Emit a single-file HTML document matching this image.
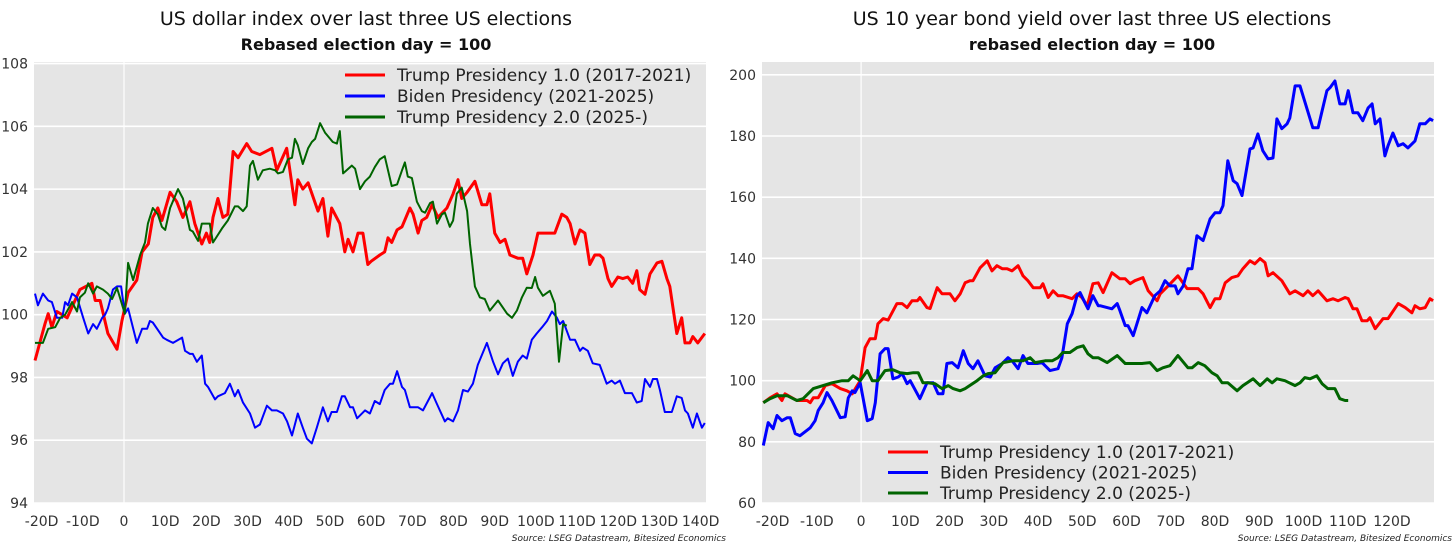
<!DOCTYPE html>
<html><head><meta charset="utf-8">
<style>
html,body{margin:0;padding:0;background:#fff;}
svg{display:block;font-family:"DejaVu Sans","Liberation Sans",sans-serif;}
</style></head>
<body>
<svg id="c" width="1456" height="546" viewBox="0 0 1456 546">
<text x="366" y="25" text-anchor="middle" font-size="19" fill="#111">US dollar index over last three US elections</text>
<text x="366" y="50" text-anchor="middle" font-size="16" font-weight="bold" fill="#111">Rebased election day = 100</text>
<text x="1092" y="25" text-anchor="middle" font-size="19" fill="#111">US 10 year bond yield over last three US elections</text>
<text x="1092" y="50" text-anchor="middle" font-size="16" font-weight="bold" fill="#111">rebased election day = 100</text>
<text x="726" y="541" text-anchor="end" font-size="9" font-style="italic" fill="#222">Source: LSEG Datastream, Bitesized Economics</text>
<text x="1452" y="541" text-anchor="end" font-size="9" font-style="italic" fill="#222">Source: LSEG Datastream, Bitesized Economics</text>
<g id="L"></g><g id="R"></g>
</svg>
<script>
// ---------- Left chart data (US dollar index) ----------
const dxyTicksY=[94,96,98,100,102,104,106,108];
const dxyTicksX=[-20,-10,0,10,20,30,40,50,60,70,80,90,100,110,120,130,140];
const dxyT1Days=[-21.6,-19.2,-18.4,-17.5,-16.3,-13.8,-10.7,-7.8,-7,-5.8,-3.9,-1.7,-0.5,1,3.1,4.4,5.9,7,8.2,9.2,11.2,12.8,14.3,16,17.2,18.9,20,20.8,21.6,22.8,24,25.2,26.5,27.7,29.8,31,33,35.9,37.1,39.5,41.5,42.2,43.4,44.7,47.1,48.3,49.5,50.4,52.4,53.6,54.4,55.6,56.8,58,59.2,60,62.1,63.3,64.1,65,66.3,67.5,69.4,70.2,71.4,72.3,73.5,74.8,76.2,78.4,79.9,81.1,82,83.3,85.2,86.9,88.1,88.8,90,91.3,92.5,93.7,95.6,96.8,97.8,99.3,100.5,101.7,104.6,106.3,107.5,108.3,109.5,110.7,111.9,113.1,114.3,115.5,116.3,117.5,118.4,119.9,121.1,122.3,123.5,124.5,125.2,126.5,127.7,129.4,130.6,131.8,132.5,134.2,135.4,136.2,137.4,138.1,139.3,141];
const dxyT1Vals=[98.54,99.7,100.03,99.6,100.1,99.9,100.8,101,100.45,100.45,99.4,98.9,99.8,100.7,101.1,102,102.25,103.1,103.4,103,103.9,103.6,103.1,103.6,102.9,102.25,102.6,102.3,103.1,103.7,103.1,103.2,105.2,105,105.45,105.2,105.1,105.3,104.6,105.3,103.5,104.3,104,104.2,103.3,103.7,102.5,103.4,102.9,102,102.4,102,102.6,102.6,101.6,101.7,101.9,102,102.45,102.3,102.7,102.8,103.4,103.2,102.6,103,103.1,103.5,103.1,103.4,103.85,104.3,103.7,103.9,104.25,103.5,103.5,103.85,102.6,102.3,102.4,101.9,101.8,101.8,101.3,101.9,102.6,102.6,102.6,103.2,103.1,102.9,102.25,102.7,102.6,101.6,101.9,101.9,101.8,101.15,100.9,101.2,101.15,101.2,101,101.4,100.8,100.65,101.3,101.65,101.7,101.15,100.9,99.4,99.9,99.1,99.1,99.3,99.1,99.4];
const dxyBidenDays=[-21.6,-20.9,-19.7,-18.4,-17.5,-16.3,-15,-14.3,-13.6,-12.6,-11.4,-9.9,-8.7,-7.5,-6.6,-5.3,-4.6,-3.9,-2.7,-1.7,-0.7,0.2,1,3.1,4.4,5.6,6.3,7,9.5,10.4,11.9,14.1,14.8,16,16.7,17.7,18.9,19.7,20.4,22.1,22.8,24.5,25.7,26.9,27.7,28.9,30.6,31.8,33,34.7,35.9,37.1,38.6,39.6,40.8,42.2,43.4,44.4,45.6,46.8,48.3,49.5,50.4,51.7,52.9,53.6,54.9,55.6,56.6,58.5,59.7,60.9,62.1,63.3,64.6,65.3,66.3,67.5,68.2,69.4,71.4,72.6,74.8,76,77.9,78.6,79.9,81.1,82.3,83.5,84.7,85.9,88.1,89.6,90.8,92,93.2,94.4,95.6,96.8,97.8,99,100.2,101.5,102.7,103.9,105.1,105.8,106.6,108.3,109.5,110.7,111.4,112.6,113.8,115.5,117.2,118.4,119.2,120.4,121.6,123.3,124.5,125.7,126.5,127.7,128.4,129.4,130.1,131.3,133,134.2,135.4,136.2,136.9,138.1,139.1,140.3,141];
const dxyBidenVals=[100.67,100.3,100.67,100.45,100.4,99.9,99.9,100.4,100.3,100.67,100.55,99.9,99.4,99.7,99.55,99.9,100,100.2,100.8,100.9,100.9,100.03,100.2,99.1,99.55,99.55,99.8,99.75,99.27,99.2,99.1,99.27,98.85,98.75,98.75,98.5,98.7,97.8,97.7,97.3,97.4,97.5,97.8,97.4,97.6,97.2,96.85,96.4,96.5,97.1,96.95,96.95,96.85,96.6,96.15,96.85,96.4,96.05,95.9,96.4,97.05,96.6,96.9,96.9,97.4,97.4,97.05,97.05,96.7,96.95,96.85,97.25,97.15,97.6,97.8,97.8,98.2,97.7,97.6,97.05,97.05,96.95,97.5,97.15,96.6,96.7,96.6,96.95,97.6,97.55,97.8,98.4,99.1,98.5,98.1,98.45,98.6,98.05,98.5,98.7,98.6,99.2,99.4,99.6,99.8,100.1,99.9,99.7,99.8,99.2,99.2,98.85,98.95,98.85,98.45,98.4,97.8,97.9,97.8,97.9,97.5,97.5,97.2,97.25,97.95,97.7,97.95,97.95,97.6,96.9,96.9,97.4,97.35,96.95,96.85,96.4,96.85,96.4,96.55];
const dxyT2Days=[-21.6,-20.9,-19.7,-18.4,-16.7,-15.5,-14.3,-12.6,-11.4,-10.7,-9.5,-8.7,-7.5,-6.6,-5.1,-3.9,-2.9,-1.7,-1,0.2,1,2.2,3.9,5.1,5.8,7,8.2,9.2,10,11.2,13.1,14.3,16,16.7,18,18.9,20.8,21.6,23.8,25.2,26.9,27.7,28.9,29.8,30.6,31.3,32.5,33.7,35.4,36.7,37.4,38.6,39.8,40.8,41.5,42.2,43.4,44.7,45.6,46.4,47.6,48.8,50.7,51.7,52.4,53.2,55.3,56.1,57.3,58.5,59.7,60.9,62.1,63.3,65,66.3,67.5,68.2,68.9,69.9,71.1,72.3,73.1,74.3,75,76,77.2,77.9,79.1,79.9,80.8,82,83.3,84,85.2,86.4,87.6,88.8,90.8,93,94.2,95.4,96.6,97.8,99,99.8,100.5,101.7,103.4,104.6,105.6,106.6,107.5];
const dxyT2Vals=[99.1,99.1,99.1,99.55,99.6,99.9,100,100.4,100.1,100.55,100.7,101,100.67,100.9,100.8,100.67,100.5,100.85,100.55,100.03,101.65,101.1,101.9,102.3,102.9,103.4,103.2,102.8,102.7,103.4,104,103.7,102.7,102.65,102.35,102.9,102.9,102.3,102.75,103,103.45,103.45,103.3,103.45,104.75,104.9,104.3,104.6,104.65,104.6,104.5,104.55,104.95,105,105.6,105.4,104.8,105.3,105.5,105.6,106.1,105.8,105.5,105.45,105.85,104.5,104.75,104.65,104,104.25,104.4,104.7,104.95,105.05,104.1,104.15,104.6,104.85,104.4,104.35,103.6,103.3,103.25,103.55,103.6,102.9,103.2,103.25,102.8,103,103.85,104.05,103.3,102.25,100.9,100.55,100.5,100.13,100.45,100.03,99.9,100.13,100.55,100.86,100.85,101.2,100.86,100.6,100.76,100.35,98.5,99.7,99.65];

// ---------- Right chart data (US 10y yield) ----------
const ustTicksY=[60,80,100,120,140,160,180,200];
const ustTicksX=[-20,-10,0,10,20,30,40,50,60,70,80,90,100,110,120];
const ustT1Days=[-22.1,-20.6,-19,-17.9,-17.2,-14.5,-12.2,-11.5,-10.8,-9.7,-8.1,-6.6,-4.7,-3.2,-2,-0.2,0.9,2,3.2,3.8,5,6.1,8.1,9.3,10.4,11.5,12.7,13.3,14.9,15.6,17.2,18.3,20.1,21.2,22.4,23.5,24.6,25.3,26.9,28.5,29.6,30.7,31.9,33,34.1,35.5,36.6,37.7,38.9,40.5,41.1,42.3,43.4,44.5,45.6,47.7,48.8,49.9,51.1,52.4,53.6,54.7,56.7,58.5,59.7,60.8,61.9,63.7,64.9,66.9,67.6,69.4,71.6,73.7,76.2,77.3,78.9,80,81.1,82.3,83.8,85.2,86.3,87.9,89,90.2,91.3,92,93.1,95.1,96.9,98.1,99.9,101,102.1,103.3,105.3,106.7,107.8,109.4,110.1,111.2,112.1,113.2,114.4,115,116.2,118,119.1,121.4,123,124.5,125.2,126.3,127.5,128.6,129.3];
const ustT1Vals=[92.8,94.4,95.7,93.5,95.7,93.5,93.5,92.8,94.4,94.4,98.4,99,97.4,96.7,95.7,100,110.8,113.7,113.7,118.6,120.3,119.8,125.2,125.2,123.9,126.1,126.1,127.2,123.9,123.6,130.4,128.4,128.4,126.1,128.4,132,132.7,132.7,136.9,139.2,135.9,137.6,136.6,136.6,135.9,137.6,134.3,132.7,130.4,130.4,131.7,127.2,129.4,127.8,127.8,126.8,128.4,127.2,124.5,131.7,132,128.8,135.3,133.3,133.3,131.7,132.7,133.7,129.4,126.1,128.4,131,134.3,130.1,130.1,128.4,123.9,126.8,126.8,132,133.7,134.3,136.6,139.2,138.2,139.9,138.6,134.3,135.3,132.7,128.4,129.4,127.8,129.4,127.8,129.4,126.1,126.8,126.1,127.2,126.8,123.5,123.5,119.6,119.6,120.6,117,120.3,120.3,125.2,123.9,122.2,124.5,123.5,123.9,126.8,126.1];
const ustBidenDays=[-22.1,-21,-19.9,-19,-17.9,-16.7,-16,-14.9,-13.8,-11.5,-10.4,-9.7,-8.6,-7.7,-6.6,-4.7,-3.6,-2.9,-2,-1.4,-0.2,1.4,2.5,3.2,4.3,5.4,6.1,7.2,8.4,9.3,10.4,11.1,13.3,14.9,16.3,17.4,18.5,19.4,20.6,21.9,23.1,24.2,25.3,26.4,28,29.2,30.3,31.9,33.2,34.3,35.5,36.6,37.7,39.8,40.9,42.7,44.5,45.4,46.6,47.7,48.8,49.5,50.6,51.3,52.4,53.6,54,56.7,57.9,58.5,59.7,60.3,61.5,63.5,64.6,66.4,67.6,68.7,69.8,71,71.6,72.8,73.9,74.8,75.9,77.3,78.9,80,81.1,81.8,82.9,84.1,85,86.1,87.9,88.6,89.7,90.8,92,93.1,94,95.1,96.3,96.9,98.1,99.2,100.8,101.5,102.1,103.3,104.2,105.3,106,107.1,108.2,109.4,110.1,111.2,112.3,113.4,114.6,115.5,116.2,117.3,118.4,119.1,120.2,121.4,122.5,123.6,125.2,126.3,127.5,128.6,129.3];
const ustBidenVals=[78.8,86.3,84.3,88.6,86.9,87.9,87.9,82.7,82,84.6,86.9,90.2,92.8,96.1,93.5,87.9,88.2,94.4,96.7,96.1,99.3,86.9,87.6,92.8,108.8,110.5,110.5,100.6,101.2,102.3,99,100,94.1,99.3,99.3,95.7,95.7,105.6,105.9,104.2,109.8,105.6,103.9,106.5,101.6,101.2,104.2,105.6,107.5,106.2,103.9,108.2,105.6,105.6,105.9,103.3,103.9,107.5,118.6,121.9,127.8,128.8,125.5,123.5,127.8,124.5,124.5,123.5,125.2,122.9,118,118,114.7,123.9,122.2,127.8,129.4,132.7,131,131,128.4,131,136.6,136.6,147.4,145.8,152.9,154.9,154.9,157.2,171.9,165.4,164.4,160.5,175.8,176.1,180.7,175.2,172.5,172.8,185.6,182.4,184,185.9,196.4,196.4,188.9,185.6,182.7,182.7,188.2,194.8,195.8,198,190.5,190.5,194.8,187.6,187.6,185,189.2,190.5,184,185.6,173.5,176.8,181,176.8,177.5,176.1,178.4,184,184,185.6,185];
const ustT2Days=[-22.1,-20.6,-19,-16.7,-14.5,-13.1,-12,-10.8,-8.6,-6.6,-4.3,-2.9,-1.8,-0.2,1.4,2.5,3.8,5.4,7.2,8.8,10.4,11.8,12.9,14,15.1,16.7,18.3,19.7,20.8,22.4,23.5,26.2,27.6,28.7,30.3,32.1,34.3,36.6,38.2,39.3,41.6,43.2,44.5,45.6,47.2,48.8,50.2,51.3,52.4,53.6,55.6,57.9,59.7,61.9,63.5,65.3,66.9,68.2,69.8,71.6,73.9,74.8,76.2,77.7,79.3,80.5,81.6,82.9,85,86.3,88.6,90.2,91.8,92.9,94,95.8,98.1,99.2,100.3,101.5,103,104.2,105.5,107.1,108.2,109.4,110.1];
const ustT2Vals=[92.8,94.1,95.1,95.1,93.5,94.1,95.7,97.4,98.4,99.3,100,100,101.6,100,103.3,100,100,103.3,103.6,102.6,102.3,102.6,102.6,99.3,99.3,99,97.4,98.4,97.4,96.7,97.4,100,101.6,102.3,102.6,105.9,106.5,106.5,107.5,105.9,106.5,106.5,107.5,109.2,109.2,110.8,111.4,108.8,107.5,107.5,105.9,108.2,105.6,105.6,105.6,105.9,103.3,104.2,104.9,108.2,104.2,104.2,105.9,104.9,102.6,101.6,99.3,99.3,96.7,98.4,100.6,98.4,100.6,99.3,100.6,100,98.4,99.3,101,100.6,101.6,99,97.4,97.4,94.1,93.5,93.5];

const NS="http://www.w3.org/2000/svg";
function mk(parent,tag,attrs){const e=document.createElementNS(NS,tag);for(const k in attrs)e.setAttribute(k,attrs[k]);parent.appendChild(e);return e;}

function drawChart(g,cfg){
  const xS=d=>cfg.x0px+(d-cfg.dMin)*(cfg.x1px-cfg.x0px)/(cfg.dMax-cfg.dMin);
  const yS=v=>cfg.y1px-(v-cfg.vMin)*(cfg.y1px-cfg.y0px)/(cfg.vMax-cfg.vMin);
  const bg=mk(g,'rect',{x:cfg.x0px,y:cfg.y0px,width:cfg.x1px-cfg.x0px,height:cfg.y1px-cfg.y0px,fill:'#e5e5e5'});
  
  
  cfg.ticksY.forEach(t=>{
    const gl=mk(g,'line',{x1:cfg.x0px,x2:cfg.x1px,y1:yS(t),y2:yS(t),stroke:'#fff','stroke-width':1.6});
    
    
    const tl=mk(g,'text',{x:cfg.x0px-6,y:yS(t)+5,'text-anchor':'end','font-size':14,fill:'#333'});
    tl.textContent=t;
    
    
  });
  const vl=mk(g,'line',{x1:xS(0),x2:xS(0),y1:cfg.y0px,y2:cfg.y1px,stroke:'#fff','stroke-width':1.2});
  
  
  cfg.ticksX.forEach(t=>{
    const tl=mk(g,'text',{x:xS(t),y:cfg.y1px+23,'text-anchor':'middle','font-size':14,fill:'#333'});
    tl.textContent=t===0?'0':t+'D';
    
    
  });
  cfg.series.forEach(s=>{
    const pts=s.days.map((d,i)=>xS(d).toFixed(1)+','+yS(s.vals[i]).toFixed(1)).join(' ');
    const pl=mk(g,'polyline',{points:pts,fill:'none',stroke:s.color,'stroke-width':s.w,'stroke-linejoin':'round'});
    
    
  });
  cfg.series.forEach((s,i)=>{
    const y=cfg.legY+i*cfg.legDy;
    const ll=mk(g,'line',{x1:cfg.legX,x2:cfg.legX+40,y1:y,y2:y,stroke:s.color,'stroke-width':3});
    
    
    const lt=mk(g,'text',{x:cfg.legX+52,y:y+6,'font-size':17,fill:'#222'});
    lt.textContent=s.label;
    
    
  });
}
drawChart(document.getElementById('L'),{prefix:'dxy',x0px:34,x1px:706,y0px:62,y1px:503,dMin:-21.85,dMax:141.3,vMin:94,vMax:108.05,
  ticksY:dxyTicksY,ticksX:dxyTicksX,legX:345,legY:75,legDy:21,
  series:[
   {name:'dxy-line-trump-1',days:dxyT1Days,vals:dxyT1Vals,color:'#ff0000',w:3,label:'Trump Presidency 1.0 (2017-2021)'},
   {name:'dxy-line-biden',days:dxyBidenDays,vals:dxyBidenVals,color:'#0000ff',w:2,label:'Biden Presidency (2021-2025)'},
   {name:'dxy-line-trump-2',days:dxyT2Days,vals:dxyT2Vals,color:'#006400',w:2,label:'Trump Presidency 2.0 (2025-)'}]});
drawChart(document.getElementById('R'),{prefix:'ust',x0px:762,x1px:1434,y0px:62,y1px:503,dMin:-22.4,dMax:129.5,vMin:60,vMax:204.2,
  ticksY:ustTicksY,ticksX:ustTicksX,legX:888,legY:452,legDy:20.5,
  series:[
   {name:'ust-line-trump-1',days:ustT1Days,vals:ustT1Vals,color:'#ff0000',w:3,label:'Trump Presidency 1.0 (2017-2021)'},
   {name:'ust-line-biden',days:ustBidenDays,vals:ustBidenVals,color:'#0000ff',w:3,label:'Biden Presidency (2021-2025)'},
   {name:'ust-line-trump-2',days:ustT2Days,vals:ustT2Vals,color:'#006400',w:3,label:'Trump Presidency 2.0 (2025-)'}]});
</script>
</body></html>
